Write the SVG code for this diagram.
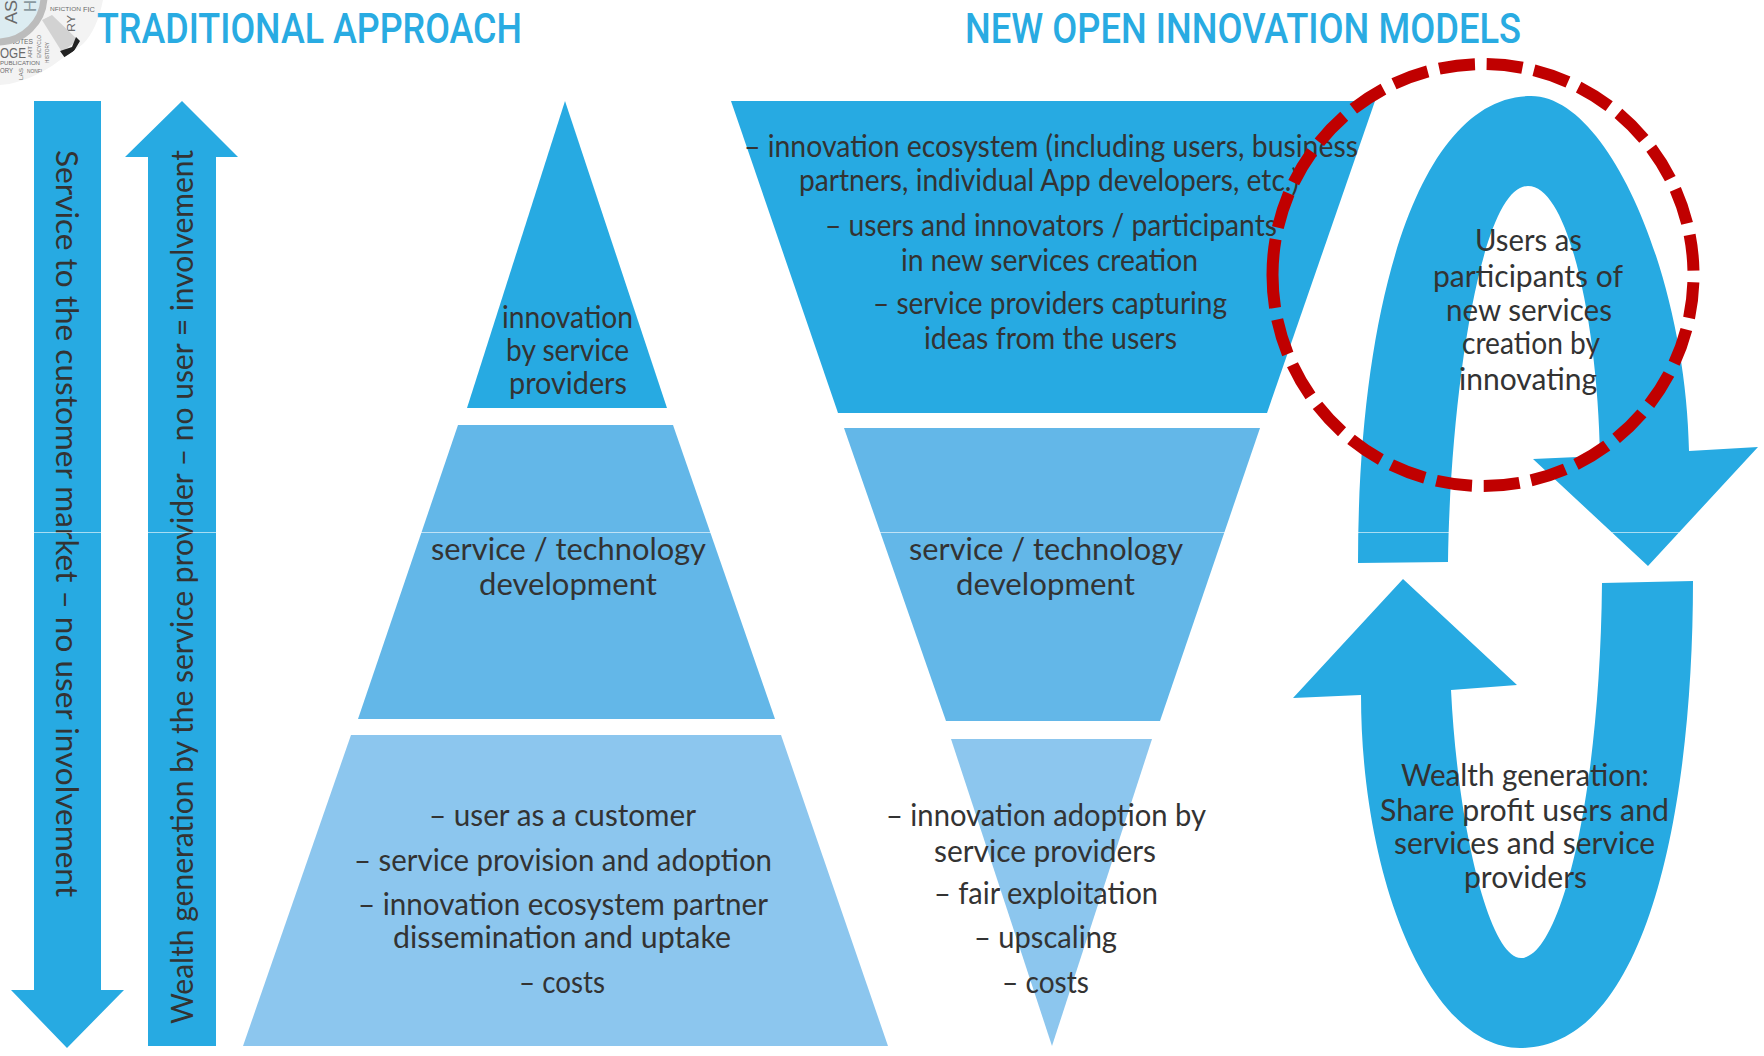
<svg xmlns="http://www.w3.org/2000/svg" width="1764" height="1056" viewBox="0 0 1764 1056">
<style>
.dark{fill:#27AAE2}.mid{fill:#63B7E8}.light{fill:#8CC6EE}
text{font-family:"Lato","Noto Sans",sans-serif;fill:#333;font-size:30px}
.title{font-family:"Roboto","Liberation Sans",sans-serif;font-size:42px;font-weight:500;fill:#29ABE2}
text.logo{font-family:"Liberation Sans",sans-serif;fill:#6a6a6a}
</style>
<defs><clipPath id="logoClip"><path d="M0 0H103Q97 30 83 44Q73 52 63 58Q40 76 17 82Q8 85 0 85Z"/></clipPath></defs>
<rect width="1764" height="1056" fill="#fff"/>
<g id="logo" clip-path="url(#logoClip)">
<rect width="104" height="86" fill="#f3f3f3"/>
<text class="logo" x="0" y="58" style="font-size:15px" textLength="26" lengthAdjust="spacingAndGlyphs">OGE</text>
<text class="logo" x="0" y="65" style="font-size:6px" textLength="40" lengthAdjust="spacingAndGlyphs">PUBLICATION</text>
<text class="logo" x="0" y="73" style="font-size:7px" textLength="13" lengthAdjust="spacingAndGlyphs">ORY</text>
<text class="logo" x="27" y="73" style="font-size:5px" textLength="15" lengthAdjust="spacingAndGlyphs">NONFI</text>
<text class="logo" x="10" y="44" style="font-size:7px" textLength="23" lengthAdjust="spacingAndGlyphs">NOTES</text>
<text class="logo" x="50" y="11" style="font-size:6px" textLength="31" lengthAdjust="spacingAndGlyphs">NFICTION</text>
<text class="logo" x="83" y="12" style="font-size:8px" textLength="12" lengthAdjust="spacingAndGlyphs">FIC</text>
<text class="logo" transform="translate(75 32) rotate(-90)" style="font-size:11px" textLength="17" lengthAdjust="spacingAndGlyphs">RY</text>
<text class="logo" transform="translate(49 63) rotate(-90)" style="font-size:5px" textLength="21" lengthAdjust="spacingAndGlyphs">HISTORY</text>
<text class="logo" transform="translate(41 58) rotate(-90)" style="font-size:5px" textLength="23" lengthAdjust="spacingAndGlyphs">ENCYCLO</text>
<text class="logo" transform="translate(32 58) rotate(-90)" style="font-size:6px" textLength="12" lengthAdjust="spacingAndGlyphs">ART</text>
<text class="logo" transform="translate(23 80) rotate(-90)" style="font-size:6px" textLength="12" lengthAdjust="spacingAndGlyphs">LAS</text>
<path d="M42 20L52 15L78 40L62 52Z" fill="#d2d2d2"/>
<path d="M60 51L72 47L76 37L80 41L74 51L65 58Z" fill="#222"/>
<circle cx="-2" cy="-4" r="46" fill="#dcecf1" stroke="#bcbcbc" stroke-width="7"/>
<text class="logo" transform="translate(17 24) rotate(-90)" style="font-size:17px" textLength="24" lengthAdjust="spacingAndGlyphs">AS</text>
<text class="logo" transform="translate(36 12) rotate(-90)" style="font-size:17px;fill:#8a9aa0" textLength="12" lengthAdjust="spacingAndGlyphs">H</text>
</g>
<g id="titles">
<text class="title" x="97" y="43" textLength="425" lengthAdjust="spacingAndGlyphs">TRADITIONAL APPROACH</text>
<text class="title" x="965" y="43" textLength="556" lengthAdjust="spacingAndGlyphs">NEW OPEN INNOVATION MODELS</text>
</g>
<g id="connectors">
<path id="service-arrow" class="dark" d="M34 101H101V990H124L67 1048L11 990H34Z"/>
<path id="wealth-arrow" class="dark" d="M148 1046V157H125L182 101L238 157H216V1046Z"/>
<path id="loop-top" class="dark" d="M1358 563C1358 300 1420 96 1531 96C1610 96 1686 280 1689 451L1758 447L1648 566L1533 459L1600 456C1598 330 1570 186 1528 186C1480 186 1450 400 1448 562Z"/>
<path id="loop-bottom" class="dark" d="M1693 581C1693 800 1650 1048 1520 1048C1430 1048 1361 880 1361 695L1293 698L1403 579L1517 685L1451 690C1458 830 1490 958 1521 958C1560 958 1600 800 1602 583Z"/>
</g>
<g id="pyramid-top"><path class="dark" d="M565 101L667 408H467Z"/>
<text x="502" y="328" textLength="131" lengthAdjust="spacingAndGlyphs">innovation</text>
<text x="506" y="361" textLength="123" lengthAdjust="spacingAndGlyphs">by service</text>
<text x="509" y="394" textLength="118" lengthAdjust="spacingAndGlyphs">providers</text></g>
<g id="pyramid-mid"><path class="mid" d="M458 425H673L775 719H358Z"/>
<text x="431" y="560" textLength="275" lengthAdjust="spacingAndGlyphs">service / technology</text>
<text x="479" y="595" textLength="178" lengthAdjust="spacingAndGlyphs">development</text></g>
<g id="pyramid-bottom"><path class="light" d="M351 735H781L888 1046H243Z"/>
<text x="429" y="826" textLength="267" lengthAdjust="spacingAndGlyphs">– user as a customer</text>
<text x="354" y="871" textLength="418" lengthAdjust="spacingAndGlyphs">– service provision and adoption</text>
<text x="358" y="915" textLength="410" lengthAdjust="spacingAndGlyphs">– innovation ecosystem partner</text>
<text x="393" y="948" textLength="338" lengthAdjust="spacingAndGlyphs">dissemination and uptake</text>
<text x="519" y="993" textLength="86" lengthAdjust="spacingAndGlyphs">– costs</text></g>
<g id="funnel-top"><path class="dark" d="M731 101H1375L1267 413H838Z"/>
<text x="744" y="157" textLength="614" lengthAdjust="spacingAndGlyphs">– innovation ecosystem (including users, business</text>
<text x="799" y="191" textLength="500" lengthAdjust="spacingAndGlyphs">partners, individual App developers, etc.)</text>
<text x="825" y="236" textLength="452" lengthAdjust="spacingAndGlyphs">– users and innovators / participants</text>
<text x="901" y="271" textLength="297" lengthAdjust="spacingAndGlyphs">in new services creation</text>
<text x="873" y="314" textLength="354" lengthAdjust="spacingAndGlyphs">– service providers capturing</text>
<text x="924" y="349" textLength="253" lengthAdjust="spacingAndGlyphs">ideas from the users</text></g>
<g id="funnel-mid"><path class="mid" d="M844 428H1260L1160 721H946Z"/>
<text x="909" y="560" textLength="274" lengthAdjust="spacingAndGlyphs">service / technology</text>
<text x="956" y="595" textLength="179" lengthAdjust="spacingAndGlyphs">development</text></g>
<g id="funnel-bottom"><path class="light" d="M951 739H1152L1052 1046Z"/>
<text x="886" y="826" textLength="320" lengthAdjust="spacingAndGlyphs">– innovation adoption by</text>
<text x="934" y="862" textLength="222" lengthAdjust="spacingAndGlyphs">service providers</text>
<text x="934" y="904" textLength="224" lengthAdjust="spacingAndGlyphs">– fair exploitation</text>
<text x="974" y="948" textLength="143" lengthAdjust="spacingAndGlyphs">– upscaling</text>
<text x="1002" y="993" textLength="87" lengthAdjust="spacingAndGlyphs">– costs</text></g>
<g id="arrow-labels">
<text transform="translate(56 150) rotate(90)" textLength="747" lengthAdjust="spacingAndGlyphs">Service to the customer market – no user involvement</text>
<text transform="translate(193 1024) rotate(-90)" textLength="874" lengthAdjust="spacingAndGlyphs">Wealth generation by the service provider – no user = involvement</text>
</g>
<g id="loop-top-label">
<text x="1475" y="251" textLength="107" lengthAdjust="spacingAndGlyphs">Users as</text>
<text x="1433" y="287" textLength="190" lengthAdjust="spacingAndGlyphs">participants of</text>
<text x="1446" y="321" textLength="166" lengthAdjust="spacingAndGlyphs">new services</text>
<text x="1462" y="354" textLength="138" lengthAdjust="spacingAndGlyphs">creation by</text>
<text x="1459" y="390" textLength="138" lengthAdjust="spacingAndGlyphs">innovating</text>
</g>
<g id="loop-bottom-label">
<text x="1401" y="786" textLength="248" lengthAdjust="spacingAndGlyphs">Wealth generation:</text>
<text x="1380" y="821" textLength="289" lengthAdjust="spacingAndGlyphs">Share profit users and</text>
<text x="1394" y="854" textLength="261" lengthAdjust="spacingAndGlyphs">services and service</text>
<text x="1464" y="888" textLength="123" lengthAdjust="spacingAndGlyphs">providers</text>
</g>
<g id="highlight"><path d="M1272.5 275A210.5 211 0 1 1 1693.5 275A210.5 211 0 1 1 1272.5 275Z" fill="none" stroke="#C00000" stroke-width="12" stroke-dasharray="36 11.8"/></g>
<path id="seam" d="M0 532.5H1764" stroke="#fff" stroke-opacity=".6" stroke-width="1"/>
</svg>
